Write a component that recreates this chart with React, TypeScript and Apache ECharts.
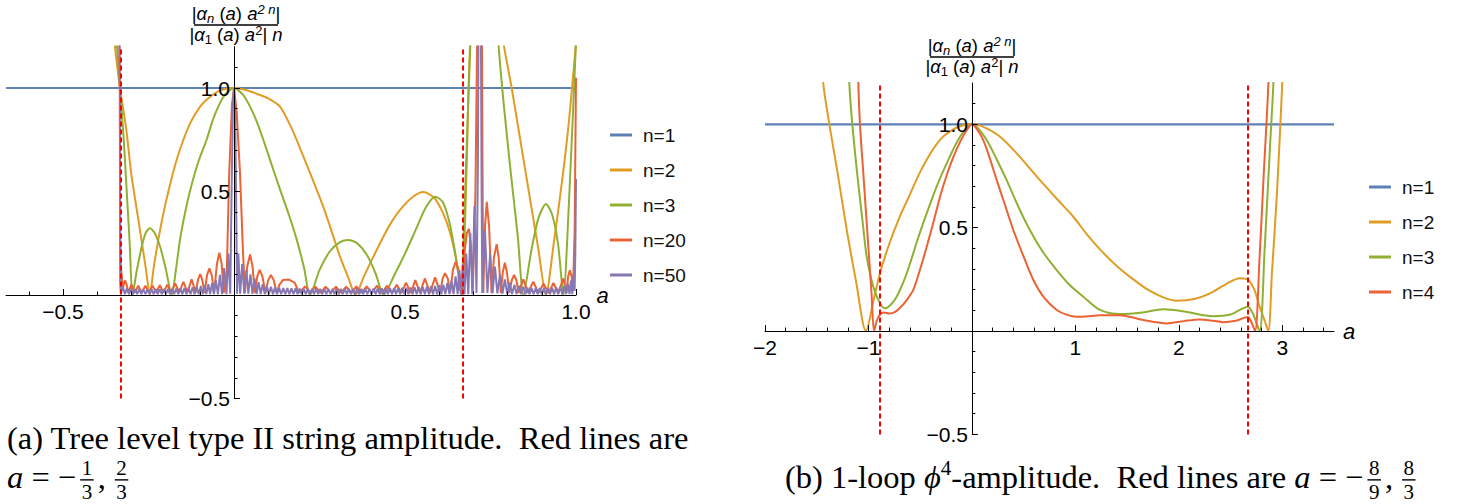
import React, { useEffect, useRef } from "react";
import * as echarts from "echarts";

// ---------------- DATA ----------------
// (a) Tree level type II string amplitude
const treeRedLines = [-1 / 3, 2 / 3];
const treeXRange = [-2 / 3, 1];
const treeYRange = [-0.5, 1.2];
const treeXMajor = [-0.5, 0.5, 1.0];
const treeXMinor = [-0.6, -0.4, -0.3, -0.2, -0.1, 0.1, 0.2, 0.3, 0.4, 0.6, 0.7, 0.8, 0.9];
const yMajor = [-0.5, 0.5, 1.0];
const yMinor = [-0.4, -0.3, -0.2, -0.1, 0.1, 0.2, 0.3, 0.4, 0.6, 0.7, 0.8, 0.9, 1.1];
const treeNames = ["n=1", "n=2", "n=3", "n=20", "n=50"];

const treeN1 = [[-2 / 3, 1], [1, 1]];
const treeN2 = [
  [-0.36, 1.45], [-0.348, 1.2], [-0.3333, 1.0], [-0.315, 0.8], [-0.3, 0.58], [-0.285, 0.42], [-0.27, 0.26],
  [-0.258, 0.13], [-0.246, 0.0], [-0.235, 0.13], [-0.221, 0.27], [-0.207, 0.39], [-0.192, 0.5], [-0.17, 0.64],
  [-0.148, 0.75], [-0.125, 0.84], [-0.099, 0.91], [-0.075, 0.95], [-0.05, 0.98], [-0.025, 0.995], [0, 1.0],
  [0.035, 0.99], [0.07, 0.97], [0.1, 0.95], [0.1345, 0.91], [0.17, 0.8], [0.203, 0.668], [0.232, 0.55],
  [0.261, 0.427], [0.285, 0.31], [0.31, 0.185], [0.335, 0.08], [0.355, 0.0], [0.38, 0.09], [0.4, 0.16],
  [0.43, 0.26], [0.456, 0.34], [0.485, 0.41], [0.52, 0.47], [0.554, 0.497], [0.585, 0.47], [0.61, 0.4],
  [0.632, 0.3], [0.651, 0.16], [0.666, 0.0], [0.68, 0.6], [0.692, 1.25], [0.74, 2.0], [0.785, 1.25],
  [0.812, 1.0], [0.84, 0.72], [0.87, 0.42], [0.89, 0.22], [0.912, 0.0], [0.935, 0.25], [0.96, 0.56],
  [0.98, 0.85], [1.0, 1.22],
];
const treeN3 = [
  [-0.36, 1.6], [-0.343, 1.22], [-0.3333, 1.0], [-0.322, 0.74], [-0.314, 0.51], [-0.305, 0.25], [-0.297, 0.0],
  [-0.284, 0.12], [-0.27, 0.233], [-0.258, 0.3], [-0.246, 0.322], [-0.232, 0.3], [-0.216, 0.233], [-0.2, 0.13],
  [-0.182, 0.0], [-0.17, 0.12], [-0.158, 0.266], [-0.144, 0.39], [-0.129, 0.5], [-0.105, 0.64], [-0.08, 0.75],
  [-0.063, 0.84], [-0.046, 0.91], [-0.025, 0.97], [0, 1.0], [0.025, 0.97], [0.047, 0.91], [0.066, 0.84],
  [0.0857, 0.75], [0.11, 0.63], [0.1345, 0.51], [0.16, 0.39], [0.183, 0.27], [0.205, 0.13], [0.222, 0.0],
  [0.25, 0.12], [0.28, 0.21], [0.31, 0.255], [0.334, 0.266], [0.36, 0.25], [0.39, 0.19], [0.415, 0.1],
  [0.437, 0.0], [0.47, 0.1], [0.5, 0.2], [0.53, 0.31], [0.56, 0.42], [0.588, 0.475], [0.61, 0.45],
  [0.63, 0.35], [0.645, 0.22], [0.655, 0.11], [0.663, 0.0], [0.678, 0.6], [0.692, 1.25], [0.73, 2.5],
  [0.773, 1.22], [0.79, 0.9], [0.81, 0.58], [0.83, 0.28], [0.846, 0.0], [0.87, 0.22], [0.89, 0.37],
  [0.912, 0.44], [0.93, 0.39], [0.948, 0.24], [0.963, 0.0], [0.98, 0.47], [1.0, 1.22],
];
const treeN20 = [
  [-0.345, 3.0], [-0.3337, 1.0], [-0.3328, 0.3], [-0.331, 0.14], [-0.328, 0.09], [-0.325, 0.03],
  [-0.321, 0.06], [-0.318, 0.07], [-0.314, 0.05], [-0.309, 0.012], [-0.3, 0.05], [-0.29, 0.012],
  [-0.28, 0.045], [-0.27, 0.012], [-0.259, 0.045], [-0.249, 0.012], [-0.238, 0.045], [-0.228, 0.012],
  [-0.217, 0.047], [-0.206, 0.012], [-0.195, 0.05], [-0.184, 0.012], [-0.172, 0.056], [-0.16, 0.012],
  [-0.148, 0.064], [-0.136, 0.012], [-0.124, 0.076], [-0.112, 0.012], [-0.105, 0.075], [-0.099, 0.101],
  [-0.093, 0.075], [-0.086, 0.01], [-0.079, 0.095], [-0.072, 0.129], [-0.065, 0.095], [-0.058, 0.01],
  [-0.05, 0.15], [-0.043, 0.204], [-0.036, 0.15], [-0.03, 0.01], [-0.021, 0.12], [-0.014, 0.59],
  [-0.006, 0.92], [0, 1.0], [0.008, 0.88], [0.0175, 0.59], [0.026, 0.22], [0.032, 0.01], [0.039, 0.14],
  [0.047, 0.196], [0.054, 0.14], [0.061, 0.01], [0.068, 0.09], [0.075, 0.121], [0.083, 0.09], [0.092, 0.01],
  [0.1, 0.072], [0.108, 0.097], [0.116, 0.072], [0.125, 0.01], [0.133, 0.05], [0.143, 0.072], [0.16, 0.075],
  [0.178, 0.058], [0.19, 0.01], [0.208, 0.042], [0.223, 0.01], [0.238, 0.04], [0.253, 0.01], [0.268, 0.04],
  [0.283, 0.01], [0.298, 0.04], [0.313, 0.01], [0.328, 0.04], [0.343, 0.01], [0.358, 0.042], [0.373, 0.01],
  [0.388, 0.042], [0.403, 0.01], [0.418, 0.045], [0.433, 0.01], [0.447, 0.045], [0.462, 0.01], [0.476, 0.05],
  [0.49, 0.01], [0.503, 0.06], [0.517, 0.01], [0.53, 0.072], [0.544, 0.01], [0.558, 0.08], [0.573, 0.01],
  [0.588, 0.085], [0.603, 0.01], [0.61, 0.08], [0.617, 0.105], [0.625, 0.08], [0.632, 0.01], [0.64, 0.12],
  [0.648, 0.16], [0.657, 0.12], [0.667, 0.01], [0.675, 0.22], [0.681, 0.3], [0.687, 0.32], [0.693, 0.23],
  [0.698, 0.01], [0.706, 0.5], [0.711, 1.25], [0.718, 4.0], [0.725, 1.25], [0.727, 0.5], [0.729, 0.01],
  [0.734, 0.33], [0.739, 0.45], [0.746, 0.33], [0.753, 0.01], [0.76, 0.18], [0.768, 0.246], [0.774, 0.18],
  [0.78, 0.01], [0.786, 0.11], [0.792, 0.156], [0.798, 0.11], [0.805, 0.01], [0.812, 0.07], [0.819, 0.097],
  [0.826, 0.07], [0.832, 0.01], [0.846, 0.076], [0.86, 0.01], [0.875, 0.065], [0.89, 0.01], [0.905, 0.055],
  [0.92, 0.01], [0.934, 0.058], [0.948, 0.01], [0.963, 0.08], [0.972, 0.01], [0.977, 0.09], [0.982, 0.12],
  [0.987, 0.09], [0.991, 0.02], [0.996, 0.3], [1.0, 1.05],
];
const treeN50 = [
  [-0.345, 3.0], [-0.3338, 1.0], [-0.3333, 0.3], [-0.3328, 0.06], [-0.331, 0.008],
  [-0.325, 0.04], [-0.319, 0.004], [-0.313, 0.032], [-0.307, 0.004], [-0.301, 0.03], [-0.295, 0.004],
  [-0.289, 0.028], [-0.283, 0.004], [-0.277, 0.028], [-0.271, 0.004], [-0.265, 0.027], [-0.259, 0.004],
  [-0.253, 0.027], [-0.247, 0.004], [-0.241, 0.027], [-0.235, 0.004], [-0.229, 0.028], [-0.223, 0.004],
  [-0.217, 0.028], [-0.211, 0.004], [-0.205, 0.029], [-0.199, 0.004], [-0.193, 0.03], [-0.187, 0.004],
  [-0.181, 0.03], [-0.175, 0.004], [-0.169, 0.031], [-0.163, 0.004], [-0.157, 0.032], [-0.151, 0.004],
  [-0.145, 0.033], [-0.139, 0.004], [-0.133, 0.035], [-0.127, 0.004], [-0.121, 0.037], [-0.115, 0.004],
  [-0.109, 0.04], [-0.103, 0.004], [-0.097, 0.043], [-0.091, 0.004], [-0.086, 0.047], [-0.081, 0.004],
  [-0.075, 0.052], [-0.07, 0.004], [-0.064, 0.058], [-0.059, 0.004], [-0.053, 0.07], [-0.047, 0.004],
  [-0.041, 0.097], [-0.035, 0.004], [-0.029, 0.13], [-0.022, 0.004], [-0.0166, 0.2], [-0.011, 0.006],
  [-0.007, 0.5], [-0.003, 0.93], [0, 1.0], [0.003, 0.93], [0.006, 0.5], [0.009, 0.006], [0.0127, 0.2],
  [0.018, 0.006], [0.024, 0.15], [0.03, 0.006], [0.036, 0.12], [0.042, 0.006], [0.048, 0.1], [0.054, 0.005],
  [0.06, 0.08], [0.066, 0.005], [0.072, 0.062], [0.078, 0.004], [0.084, 0.052], [0.09, 0.004], [0.096, 0.045],
  [0.102, 0.004], [0.108, 0.04], [0.114, 0.004], [0.12, 0.037], [0.126, 0.004], [0.132, 0.035], [0.138, 0.004],
  [0.144, 0.034], [0.15, 0.004], [0.156, 0.033], [0.162, 0.004], [0.168, 0.032], [0.174, 0.004], [0.18, 0.032],
  [0.186, 0.004], [0.192, 0.031], [0.198, 0.004], [0.204, 0.03], [0.21, 0.004], [0.216, 0.03], [0.222, 0.004],
  [0.228, 0.03], [0.234, 0.004], [0.24, 0.03], [0.246, 0.004], [0.252, 0.03], [0.258, 0.004], [0.264, 0.03],
  [0.27, 0.004], [0.276, 0.03], [0.282, 0.004], [0.288, 0.03], [0.294, 0.004], [0.3, 0.03], [0.306, 0.004],
  [0.312, 0.03], [0.318, 0.004], [0.324, 0.03], [0.33, 0.004], [0.336, 0.03], [0.342, 0.004], [0.348, 0.03],
  [0.354, 0.004], [0.36, 0.03], [0.366, 0.004], [0.372, 0.03], [0.378, 0.004], [0.384, 0.03], [0.39, 0.004],
  [0.396, 0.03], [0.402, 0.004], [0.408, 0.031], [0.414, 0.004], [0.42, 0.031], [0.426, 0.004], [0.432, 0.032],
  [0.438, 0.004], [0.444, 0.032], [0.45, 0.004], [0.456, 0.033], [0.462, 0.004], [0.468, 0.033], [0.474, 0.004],
  [0.48, 0.034], [0.486, 0.004], [0.492, 0.035], [0.498, 0.004], [0.504, 0.035], [0.51, 0.004], [0.516, 0.036],
  [0.522, 0.004], [0.528, 0.037], [0.534, 0.004], [0.54, 0.038], [0.546, 0.004], [0.552, 0.039], [0.558, 0.004],
  [0.564, 0.04], [0.57, 0.004], [0.576, 0.042], [0.582, 0.004], [0.588, 0.044], [0.594, 0.004], [0.6, 0.047],
  [0.606, 0.004], [0.612, 0.05], [0.618, 0.004], [0.624, 0.058], [0.63, 0.004], [0.636, 0.068], [0.642, 0.004],
  [0.648, 0.09], [0.654, 0.004], [0.659, 0.12], [0.664, 0.004], [0.669, 0.15], [0.674, 0.004], [0.679, 0.2],
  [0.685, 0.004], [0.691, 0.3], [0.697, 0.004], [0.703, 0.43], [0.709, 0.01], [0.713, 0.6], [0.715, 1.3],
  [0.718, 4.0], [0.722, 1.3], [0.724, 0.5], [0.726, 0.01], [0.734, 0.31], [0.741, 0.01], [0.749, 0.2],
  [0.756, 0.008], [0.763, 0.137], [0.77, 0.008], [0.778, 0.1], [0.785, 0.006], [0.792, 0.075], [0.799, 0.005],
  [0.806, 0.06], [0.813, 0.005], [0.82, 0.05], [0.826, 0.005], [0.833, 0.045], [0.839, 0.005], [0.846, 0.04],
  [0.852, 0.004], [0.858, 0.036], [0.864, 0.004], [0.87, 0.034], [0.876, 0.004], [0.882, 0.033], [0.888, 0.004],
  [0.894, 0.033], [0.9, 0.004], [0.906, 0.033], [0.912, 0.004], [0.918, 0.034], [0.924, 0.004], [0.93, 0.035],
  [0.936, 0.004], [0.942, 0.037], [0.948, 0.004], [0.954, 0.04], [0.96, 0.004], [0.966, 0.045], [0.971, 0.004],
  [0.976, 0.055], [0.981, 0.004], [0.985, 0.07], [0.989, 0.004], [0.993, 0.1], [0.996, 0.02], [0.998, 0.2],
  [1.0, 0.56],
];

// (b) 1-loop phi^4 amplitude
const loopRedLines = [-8 / 9, 8 / 3];
const loopXRange = [-2, 3.5];
const loopYRange = [-0.5, 1.2];
const loopXMajor = [-2, -1, 1, 2, 3];
const loopXMinor = [-1.8, -1.6, -1.4, -1.2, -0.8, -0.6, -0.4, -0.2, 0.2, 0.4, 0.6, 0.8, 1.2, 1.4, 1.6, 1.8, 2.2, 2.4, 2.6, 2.8, 3.2, 3.4];
const loopNames = ["n=1", "n=2", "n=3", "n=4"];

const loopN1 = [[-2, 1], [3.5, 1]];
const loopN2 = [
  [-1.46, 1.45], [-1.437, 1.2], [-1.378, 1.0], [-1.3, 0.77], [-1.21, 0.49], [-1.12, 0.24], [-1.024, 0.0],
  [-0.95, 0.15], [-0.889, 0.28], [-0.8, 0.42], [-0.7, 0.55], [-0.6, 0.66], [-0.5, 0.77], [-0.4, 0.86],
  [-0.3, 0.93], [-0.2, 0.97], [-0.1, 0.993], [0, 1.0], [0.1, 0.99], [0.272, 0.94], [0.45, 0.85], [0.658, 0.73],
  [0.82, 0.64], [0.98, 0.553], [1.1, 0.475], [1.238, 0.395], [1.4, 0.315], [1.56, 0.25], [1.7, 0.2],
  [1.85, 0.163], [1.98, 0.147], [2.15, 0.155], [2.3, 0.182], [2.45, 0.225], [2.59, 0.255], [2.67, 0.247],
  [2.73, 0.2], [2.78, 0.12], [2.83, 0.05], [2.865, 0.0], [2.9, 0.28], [2.95, 0.68], [3.0, 1.2], [3.03, 1.55],
];
const loopN3 = [
  [-1.2, 1.5], [-1.185, 1.2], [-1.156, 1.0], [-1.1, 0.72], [-1.05, 0.5], [-1.017, 0.36], [-0.953, 0.214],
  [-0.889, 0.135], [-0.84, 0.11], [-0.78, 0.13], [-0.727, 0.166], [-0.66, 0.24], [-0.598, 0.327], [-0.52, 0.45],
  [-0.437, 0.569], [-0.34, 0.7], [-0.244, 0.811], [-0.115, 0.94], [0, 1.0], [0.06, 0.98], [0.143, 0.924],
  [0.24, 0.83], [0.336, 0.73], [0.45, 0.6], [0.56, 0.489], [0.69, 0.38], [0.82, 0.295], [0.95, 0.22],
  [1.077, 0.166], [1.238, 0.102], [1.43, 0.082], [1.65, 0.09], [1.85, 0.105], [2.05, 0.095], [2.33, 0.072],
  [2.5, 0.08], [2.6, 0.105], [2.667, 0.118], [2.72, 0.08], [2.78, 0.0], [2.83, 0.4], [2.88, 0.88],
  [2.914, 1.2], [2.93, 1.5],
];
const loopN4 = [
  [-1.11, 1.5], [-1.098, 1.2], [-1.082, 1.0], [-1.05, 0.765], [-1.0, 0.4], [-0.97, 0.18], [-0.946, 0.0],
  [-0.92, 0.05], [-0.889, 0.08], [-0.85, 0.09], [-0.8, 0.085], [-0.75, 0.09], [-0.7, 0.11], [-0.63, 0.15],
  [-0.566, 0.2], [-0.5, 0.3], [-0.437, 0.408], [-0.37, 0.53], [-0.308, 0.65], [-0.24, 0.76], [-0.179, 0.843],
  [-0.11, 0.92], [-0.05, 0.972], [0, 1.0], [0.05, 0.975], [0.11, 0.924], [0.17, 0.84], [0.24, 0.73],
  [0.32, 0.61], [0.4, 0.489], [0.5, 0.36], [0.594, 0.247], [0.7, 0.16], [0.82, 0.102], [0.92, 0.078],
  [1.013, 0.069], [1.1, 0.07], [1.238, 0.076], [1.43, 0.077], [1.6, 0.06], [1.75, 0.045], [1.88, 0.037],
  [2.05, 0.048], [2.2, 0.056], [2.33, 0.05], [2.43, 0.043], [2.55, 0.05], [2.667, 0.068], [2.7, 0.045],
  [2.737, 0.0], [2.78, 0.35], [2.82, 0.75], [2.866, 1.2], [2.88, 1.5],
];

// ---------------- STYLE ----------------
const BLUE = "#5E81B5";
const ORANGE = "#E19C24";
const GREEN = "#8FB032";
const RED = "#EB6235";
const PURPLE = "#8778B3";
const SANS = '"Liberation Sans", Arial, sans-serif';
const SERIF = '"Liberation Serif", "DejaVu Serif", serif';

const GRID_TREE = { left: 6, top: 46.6, width: 570, height: 351.9 };
const GRID_LOOP = { left: 765, top: 83, width: 569, height: 351.4 };

const minus = (s: string, v: number) => (v < 0 ? "\u2212" + s : s);
const fmt1 = (v: number) => minus(Math.abs(v).toFixed(1), v);
const fmt0 = (v: number) => minus(String(Math.abs(Math.round(v))), v);

function axisPair(gridIndex: number, range: number[], major: number[], minor: number[], fmt: (v: number) => string, isX: boolean, offset: number) {
  const main: any = {
    type: "value", gridIndex, min: range[0], max: range[1], z: 5,
    position: isX ? "bottom" : "left", offset,
    axisLine: { show: true, onZero: false, lineStyle: { color: "#000", width: 1 } },
    axisTick: { show: true, inside: true, length: 6, customValues: major, lineStyle: { color: "#000", width: 1 } },
    axisLabel: {
      show: true, customValues: major, formatter: fmt, color: "#000", fontSize: 21,
      fontFamily: SANS, margin: isX ? 6 : 4,
    },
    splitLine: { show: false },
  };
  if (isX) {
    main.name = "a";
    main.nameLocation = "end";
    main.nameGap = 9;
    main.nameTextStyle = { fontStyle: "italic", fontSize: 22, fontFamily: SANS, color: "#000" };
  }
  const sub: any = {
    type: "value", gridIndex, min: range[0], max: range[1], z: 5,
    position: isX ? "bottom" : "left", offset,
    axisLine: { show: false, onZero: false },
    axisTick: { show: true, inside: true, length: 3.5, customValues: minor, lineStyle: { color: "#000", width: 1 } },
    axisLabel: { show: false },
    splitLine: { show: false },
  };
  return [main, sub];
}

function lineSeries(name: string, data: number[][], color: string, axisIdx: number, smooth: number | boolean, width = 2) {
  return {
    type: "line", name, data, xAxisIndex: axisIdx, yAxisIndex: axisIdx,
    showSymbol: false, symbol: "none", smooth, color,
    lineStyle: { color, width }, itemStyle: { color },
    clip: true, silent: true, emphasis: { disabled: true },
  };
}

function redMarks(vals: number[]) {
  return {
    silent: true, symbol: ["none", "none"], label: { show: false }, z: 10,
    lineStyle: { color: "#FF0000", width: 2, type: [5, 3] },
    emphasis: { disabled: true },
    data: vals.map((v) => ({ xAxis: v })),
  };
}

// ---------------- TEXT LAYOUT HELPERS ----------------
type Piece = { t: string; fs: number; it?: boolean; dy?: number; fam: string };

function makeText(t: string, x: number, yMid: number, fs: number, fam: string, it: boolean, align = "left") {
  return {
    type: "text", silent: true, z: 10,
    style: {
      text: t, x, y: yMid, fontSize: fs, fontFamily: fam, fontStyle: it ? "italic" : "normal",
      fill: "#000", textAlign: align, align, textVerticalAlign: "middle", verticalAlign: "middle",
    },
  };
}

function buildGraphics() {
  const ctx = document.createElement("canvas").getContext("2d") as CanvasRenderingContext2D;
  const measure = (p: Piece) => {
    ctx.font = `${p.it ? "italic " : ""}${p.fs}px ${p.fam}`;
    return ctx.measureText(p.t).width;
  };
  const out: any[] = [];
  const row = (pieces: Piece[], x0: number, baseline: number, center = false) => {
    const ws = pieces.map(measure);
    const total = ws.reduce((a, b) => a + b, 0);
    let x = center ? x0 - total / 2 : x0;
    pieces.forEach((p, i) => {
      if (p.t.trim() !== "") out.push(makeText(p.t, x, baseline + (p.dy || 0) - 0.34 * p.fs, p.fs, p.fam, !!p.it));
      x += ws[i];
    });
    return x;
  };
  const FS = 32.5;
  const SFS = 21;
  const frac = (num: string, den: string, x: number, baseline: number) => {
    const wn = measure({ t: num, fs: SFS, fam: SERIF });
    const wd = measure({ t: den, fs: SFS, fam: SERIF });
    const pad = 4;
    const bw = Math.max(wn, wd) + 3;
    const cx = x + pad + bw / 2;
    const axis = baseline - 0.25 * FS;
    out.push(makeText(num, cx, baseline - 0.394 * FS - 0.34 * SFS, SFS, SERIF, false, "center"));
    out.push({ type: "line", silent: true, z: 10, shape: { x1: x + pad, y1: axis, x2: x + pad + bw, y2: axis }, style: { stroke: "#000", lineWidth: 1.4 } });
    out.push(makeText(den, cx, baseline + 0.33 * FS - 0.34 * SFS, SFS, SERIF, false, "center"));
    return x + 2 * pad + bw;
  };

  // y-axis title fractions
  const yTitle = (cx: number, barY: number) => {
    const F = 18.5, S = 13;
    row([
      { t: "|", fs: F, fam: SANS }, { t: "α", fs: F, fam: SANS, it: true }, { t: "n", fs: S, fam: SANS, it: true, dy: 3 },
      { t: " (", fs: F, fam: SANS }, { t: "a", fs: F, fam: SANS, it: true }, { t: ") ", fs: F, fam: SANS },
      { t: "a", fs: F, fam: SANS, it: true }, { t: "2 n", fs: S, fam: SANS, it: true, dy: -6 }, { t: "|", fs: F, fam: SANS },
    ], cx, barY - 5, true);
    out.push({ type: "line", silent: true, z: 10, shape: { x1: cx - 42, y1: barY, x2: cx + 42, y2: barY }, style: { stroke: "#000", lineWidth: 1.3 } });
    row([
      { t: "|", fs: F, fam: SANS }, { t: "α", fs: F, fam: SANS, it: true }, { t: "1", fs: S, fam: SANS, dy: 3 },
      { t: " (", fs: F, fam: SANS }, { t: "a", fs: F, fam: SANS, it: true }, { t: ") ", fs: F, fam: SANS },
      { t: "a", fs: F, fam: SANS, it: true }, { t: "2", fs: S, fam: SANS, dy: -6 }, { t: "| ", fs: F, fam: SANS },
      { t: "n", fs: F, fam: SANS, it: true },
    ], cx, barY + 16, true);
  };
  yTitle(236, 25);
  yTitle(972, 57);

  // caption (a)
  row([{ t: "(a) Tree level type II string amplitude.\u2002Red lines are", fs: FS, fam: SERIF }], 7, 449);
  const b2 = 488;
  let x = row([{ t: "a", fs: FS, fam: SERIF, it: true }, { t: " = \u2212", fs: FS, fam: SERIF }], 7, b2);
  x = frac("1", "3", x, b2);
  x = row([{ t: ",", fs: FS, fam: SERIF }], x, b2) + 5;
  frac("2", "3", x, b2);

  // caption (b)
  const bl = 488;
  x = row([
    { t: "(b) 1-loop ", fs: FS, fam: SERIF }, { t: "ϕ", fs: FS, fam: SERIF, it: true },
    { t: "4", fs: SFS, fam: SERIF, dy: -13 }, { t: "-amplitude.\u2002Red lines are ", fs: FS, fam: SERIF },
    { t: "a", fs: FS, fam: SERIF, it: true }, { t: " = \u2212", fs: FS, fam: SERIF },
  ], 785, bl);
  x = frac("8", "9", x, bl);
  x = row([{ t: ",", fs: FS, fam: SERIF }], x, bl) + 5;
  frac("8", "3", x, bl);
  return out;
}

function zeroOffsets(g: { left: number; top: number; width: number; height: number }, xr: number[], yr: number[]) {
  const zeroY = g.top + (g.height * yr[1]) / (yr[1] - yr[0]);
  const zeroX = g.left + (g.width * (0 - xr[0])) / (xr[1] - xr[0]);
  return { xOff: -(g.top + g.height - zeroY), yOff: -(zeroX - g.left) };
}

function buildOption() {
  const to = zeroOffsets(GRID_TREE, treeXRange, treeYRange);
  const lo = zeroOffsets(GRID_LOOP, loopXRange, loopYRange);
  const [tx0, tx1] = axisPair(0, treeXRange, treeXMajor, treeXMinor, fmt1, true, to.xOff);
  const [ty0, ty1] = axisPair(0, treeYRange, yMajor, yMinor, fmt1, false, to.yOff);
  const [lx0, lx1] = axisPair(1, loopXRange, loopXMajor, loopXMinor, fmt0, true, lo.xOff);
  const [ly0, ly1] = axisPair(1, loopYRange, yMajor, yMinor, fmt1, false, lo.yOff);

  const legendBase = {
    orient: "vertical", itemWidth: 22, itemHeight: 3, itemGap: 15, icon: "rect", selectedMode: false, padding: 0,
    textStyle: { fontSize: 19, fontFamily: SANS, color: "#111", lineHeight: 20, padding: [0, 0, 0, 6] },
  };

  const blueTree: any = lineSeries("n=1", treeN1, BLUE, 0, false, 2.2);
  blueTree.markLine = redMarks(treeRedLines);
  const blueLoop: any = lineSeries("n=1", loopN1, BLUE, 2, false, 2.2);
  blueLoop.markLine = redMarks(loopRedLines);

  return {
    animation: false,
    backgroundColor: "#fff",
    textStyle: { fontFamily: SANS },
    grid: [
      { ...GRID_TREE, outerBoundsMode: "none", containLabel: false },
      { ...GRID_LOOP, outerBoundsMode: "none", containLabel: false },
    ],
    xAxis: [tx0, tx1, lx0, lx1],
    yAxis: [ty0, ty1, ly0, ly1],
    legend: [
      { ...legendBase, data: treeNames, left: 610, top: 125 },
      { ...legendBase, data: loopNames, left: 1369, top: 177 },
    ],
    series: [
      blueTree,
      lineSeries("n=2", treeN2, ORANGE, 0, 0.25),
      lineSeries("n=3", treeN3, GREEN, 0, 0.25),
      lineSeries("n=20", treeN20, RED, 0, false),
      lineSeries("n=50", treeN50, PURPLE, 0, false),
      blueLoop,
      lineSeries("n=2", loopN2, ORANGE, 2, 0.3),
      lineSeries("n=3", loopN3, GREEN, 2, 0.3),
      lineSeries("n=4", loopN4, RED, 2, 0.3),
    ],
    graphic: { elements: buildGraphics() },
  };
}

export default function App() {
  const ref = useRef<HTMLDivElement>(null);
  useEffect(() => {
    if (!ref.current) return;
    const chart = echarts.init(ref.current, undefined, { renderer: "svg" });
    chart.setOption(buildOption() as any);
    return () => chart.dispose();
  }, []);
  return (
    <div
      ref={ref}
      style={{ position: "fixed", left: 0, top: 0, width: 1474, height: 504, background: "#fff" }}
    />
  );
}
